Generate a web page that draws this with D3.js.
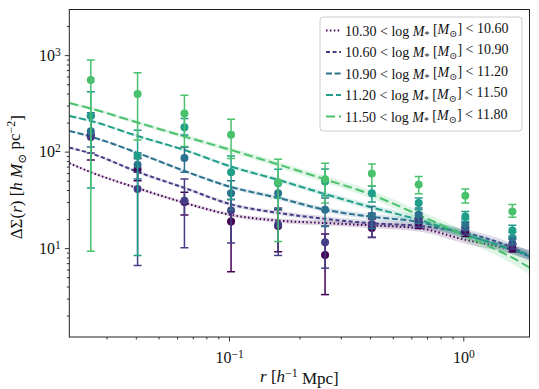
<!DOCTYPE html>
<html>
<head>
<meta charset="utf-8">
<script src="https://cdn.jsdelivr.net/npm/d3@7"></script>
<style>
  body { margin: 0; background: #fff; }
  svg { display: block; }
  text { font-family: "Liberation Serif", "DejaVu Serif", serif; fill: #111; }
</style>
</head>
<body>
<div id="chart"></div>
<script>
// radial bins (h^-1 Mpc) for the measured points
var rBins = [0.0257, 0.0407, 0.0645, 0.102, 0.162, 0.257, 0.407, 0.645, 1.02, 1.62];
// radii at which the model curves were read
var rModel = [0.0208, 0.0257, 0.0407, 0.0645, 0.102, 0.162, 0.257, 0.407, 0.645, 1.02, 1.62, 1.92];

var massEdges = ["10.30", "10.60", "10.90", "11.20", "11.50", "11.80"];

// measured Delta Sigma and error bar ends, one array per mass bin
var obs1 = [150, 66, 30, 18.9, 17, 8.5, 16.2, 18.2, 14.9, 10];
var lo1  = [82, 50, 22, 5.7, 9.2, 3.3, 12.9, 16, 13.2, 9.1];
var hi1  = [230, 85, 38, 32, 25, 14, 20, 20.5, 16.6, 11];

var obs2 = [142, 41, 31, 24.6, 17.5, 11.5, 17.8, 19.7, 16.2, 11.1];
var lo2  = [97, 6.6, 10.1, 11.3, 8.4, 6.2, 13, 16.5, 14, 9.8];
var hi2  = [240, 61, 52, 38, 26, 17, 23, 23, 18.5, 12.4];

var obs3 = [163, 73, 86, 37, 37, 25, 21.7, 22.2, 17.7, 12.7];
var lo3  = [112, 52, 61, 25, 25.5, 16.8, 16, 18, 15.5, 11];
var hi3  = [253, 97, 111, 50, 49, 33, 27, 26, 20, 14.5];

var obs4 = [234, 90, 179, 61, 47, 49, 37.1, 29.3, 21.3, 15.2];
var lo4  = [42, 8.4, 149, 32, 33, 35, 30, 25, 19, 13.3];
var hi4  = [417, 167, 221, 90, 65.7, 66, 44, 33, 24, 17.3];

var obs5 = [551, 395, 249, 150, 48.2, 51.8, 59.3, 45.6, 35, 24];
var lo5  = [9.3, 132, 113, 85, 11.7, 29.3, 44, 36.5, 29.3, 20.9];
var hi5  = [888, 656, 385, 216, 83.4, 75.8, 74.6, 55.2, 41, 28.4];

// model curves
var model1 = [75.9, 61.2, 41.8, 29.5, 22.1, 19.3, 18.2, 17.2, 16.1, 12.2, 9.6, 8.5];
var model2 = [110, 96, 61.7, 42.1, 28.4, 23.2, 20.1, 18.1, 17.0, 14.4, 10.1, 8.3];
var model3 = [164, 143, 97, 63, 43, 33.2, 25, 21.1, 18.7, 13.8, 9.6, 8.2];
var model4 = [234, 208, 145, 104, 70, 51, 36.3, 26.4, 19.7, 13.8, 9.6, 8.55];
var model5 = [319, 280, 200, 143.6, 104, 73.7, 51.6, 35.7, 22.1, 13.4, 7.96, 6.27];
// half width of the shaded model band, in dex
var bandDex = [0.012, 0.012, 0.014, 0.016, 0.018, 0.022, 0.026, 0.03, 0.035, 0.04, 0.045, 0.05];

var xMajor = [0.1, 1];
var yMajor = [10, 100, 1000];

var colors = ["#440154", "#433e85", "#2c728e", "#1f9e89", "#4ac16d"];
var dashes = ["1.5,2.4", "4,2.6", "6,2.6", "7,3", "9,4"];

var svgWidth = 539;
var svgHeight = 389;
var margin = { top: 9.5, right: 9.5, bottom: 52, left: 69.3 };

var series = [
  { obs: obs1, lo: lo1, hi: hi1, model: model1 },
  { obs: obs2, lo: lo2, hi: hi2, model: model2 },
  { obs: obs3, lo: lo3, hi: hi3, model: model3 },
  { obs: obs4, lo: lo4, hi: hi4, model: model4 },
  { obs: obs5, lo: lo5, hi: hi5, model: model5 }
];

var svg = d3.select("#chart").append("svg")
  .attr("width", svgWidth)
  .attr("height", svgHeight);

var x = d3.scaleLog()
  .domain([0.0208, 1.917])
  .range([margin.left, svgWidth - margin.right]);

var y = d3.scaleLog()
  .domain([1.2, 2970])
  .range([svgHeight - margin.bottom, margin.top]);

var plot = svg.append("g");

plot.append("clipPath").attr("id", "clip")
  .append("rect")
  .attr("x", margin.left).attr("y", margin.top)
  .attr("width", x.range()[1] - x.range()[0])
  .attr("height", y.range()[0] - y.range()[1]);

var inner = plot.append("g").attr("clip-path", "url(#clip)");

var line = d3.line()
  .x(d => x(d.r))
  .y(d => y(d.v))
  .curve(d3.curveMonotoneX);

var band = d3.area()
  .x(d => x(d.r))
  .y0(d => y(d.v * Math.pow(10, -d.w)))
  .y1(d => y(d.v * Math.pow(10, d.w)))
  .curve(d3.curveMonotoneX);

series.forEach(function(s, i) {
  var scale = i == 4 ? 1.4 : 1;
  var pts = rModel.map((r, j) => ({ r: r, v: s.model[j], w: bandDex[j] * scale }));

  inner.append("path")
    .attr("d", band(pts))
    .attr("fill", colors[i])
    .attr("opacity", 0.17);

  inner.append("path")
    .attr("d", line(pts))
    .attr("fill", "none")
    .attr("stroke", colors[i])
    .attr("stroke-width", 2)
    .attr("stroke-dasharray", dashes[i]);
});

series.forEach(function(s, i) {
  var g = inner.append("g");
  var data = rBins.map((r, j) => ({ r: r, v: s.obs[j], lo: s.lo[j], hi: s.hi[j] }));

  g.selectAll(".bar").data(data).enter().append("line")
    .attr("x1", d => x(d.r)).attr("x2", d => x(d.r))
    .attr("y1", d => y(d.lo)).attr("y2", d => y(d.hi))
    .attr("stroke", colors[i]).attr("stroke-width", 1.5);

  ["lo", "hi"].forEach(function(k) {
    g.selectAll(".cap" + k).data(data).enter().append("line")
      .attr("x1", d => x(d.r) - 4).attr("x2", d => x(d.r) + 4)
      .attr("y1", d => y(d[k])).attr("y2", d => y(d[k]))
      .attr("stroke", colors[i]).attr("stroke-width", 1.5);
  });

  g.selectAll("circle").data(data).enter().append("circle")
    .attr("cx", d => x(d.r))
    .attr("cy", d => y(d.v))
    .attr("r", 4)
    .attr("fill", colors[i]);
});

// axes
function minorTicks(lo, hi) {
  var out = [];
  for (var e = Math.floor(Math.log10(lo)); e <= Math.ceil(Math.log10(hi)); e++) {
    for (var m = 2; m <= 9; m++) {
      var v = m * Math.pow(10, e);
      if (v >= lo && v <= hi) out.push(v);
    }
  }
  return out;
}

function powerLabel(sel) {
  sel.selectAll(".tick text").each(function(d) {
    var t = d3.select(this);
    var e = Math.round(Math.log10(d));
    t.text("");
    t.append("tspan").text("10");
    t.append("tspan").attr("dy", "-0.45em").attr("font-size", "0.72em")
      .text(e < 0 ? "\u2212" + (-e) : e);
  });
}

var xAxisG = svg.append("g")
  .attr("transform", `translate(0, ${y.range()[0]})`)
  .call(d3.axisBottom(x).tickValues(xMajor).tickSize(4.5).tickPadding(5))
  .call(powerLabel);
svg.append("g")
  .attr("transform", `translate(0, ${y.range()[0]})`)
  .call(d3.axisBottom(x).tickValues(minorTicks(0.0208, 1.917)).tickSize(2.5).tickFormat(""));

var yAxisG = svg.append("g")
  .attr("transform", `translate(${x.range()[0]}, 0)`)
  .call(d3.axisLeft(y).tickValues(yMajor).tickSize(4.5).tickPadding(4))
  .call(powerLabel);
svg.append("g")
  .attr("transform", `translate(${x.range()[0]}, 0)`)
  .call(d3.axisLeft(y).tickValues(minorTicks(1.2, 2970)).tickSize(2.5).tickFormat(""));

svg.selectAll(".domain").remove();
svg.selectAll(".tick line").attr("stroke", "#222").attr("stroke-width", 0.9);
svg.selectAll(".tick text").attr("font-size", 16).attr("fill", "#111")
  .attr("font-family", "Liberation Serif, DejaVu Serif, serif");
xAxisG.selectAll(".tick text").attr("dy", "1.05em");

// frame
svg.append("rect")
  .attr("x", x.range()[0]).attr("y", y.range()[1])
  .attr("width", x.range()[1] - x.range()[0])
  .attr("height", y.range()[0] - y.range()[1])
  .attr("fill", "none").attr("stroke", "#222").attr("stroke-width", 1);

// axis titles
var xt = svg.append("text")
  .attr("x", (x.range()[0] + x.range()[1]) / 2)
  .attr("y", 382)
  .attr("text-anchor", "middle")
  .attr("font-size", 17);
xt.append("tspan").attr("font-style", "italic").text("r");
xt.append("tspan").text(" [");
xt.append("tspan").attr("font-style", "italic").text("h");
xt.append("tspan").attr("dy", "-0.45em").attr("font-size", "0.7em").text("\u22121");
xt.append("tspan").attr("dy", "0.45em").text(" Mpc]");

var yt = svg.append("text")
  .attr("transform", `translate(22, ${(y.range()[0] + y.range()[1]) / 2 + 4}) rotate(-90)`)
  .attr("text-anchor", "middle")
  .attr("font-size", 17);
yt.append("tspan").text("\u0394\u03A3(");
yt.append("tspan").attr("font-style", "italic").text("r");
yt.append("tspan").text(") [");
yt.append("tspan").attr("font-style", "italic").text("h M");
yt.append("tspan").attr("dy", "0.3em").attr("font-size", "0.7em").text("\u2299");
yt.append("tspan").attr("dy", "-0.3em").text(" pc");
yt.append("tspan").attr("dy", "-0.45em").attr("font-size", "0.7em").text("\u22122");
yt.append("tspan").attr("dy", "0.45em").text("]");

// legend
var legend = svg.append("g").attr("transform", "translate(320, 17)");
legend.append("rect")
  .attr("width", 202).attr("height", 114)
  .attr("rx", 3)
  .attr("fill", "#fff").attr("fill-opacity", 0.85)
  .attr("stroke", "#ccc").attr("stroke-width", 1);

series.forEach(function(s, i) {
  var row = legend.append("g").attr("transform", `translate(0, ${13.5 + i * 21.5})`);
  row.append("line")
    .attr("x1", 6).attr("x2", 21)
    .attr("stroke", colors[i]).attr("stroke-width", 2)
    .attr("stroke-dasharray", dashes[i]);
  var t = row.append("text").attr("x", 25).attr("y", 5).attr("font-size", 14);
  t.append("tspan").text(massEdges[i] + " < log ");
  t.append("tspan").attr("font-style", "italic").text("M");
  t.append("tspan").attr("dy", "0.3em").attr("font-size", "0.7em").text("*");
  t.append("tspan").attr("dy", "-0.3em").text(" [");
  t.append("tspan").attr("font-style", "italic").text("M");
  t.append("tspan").attr("dy", "0.3em").attr("font-size", "0.7em").text("\u2299");
  t.append("tspan").attr("dy", "-0.3em").text("] < " + massEdges[i + 1]);
});
</script>
</body>
</html>
